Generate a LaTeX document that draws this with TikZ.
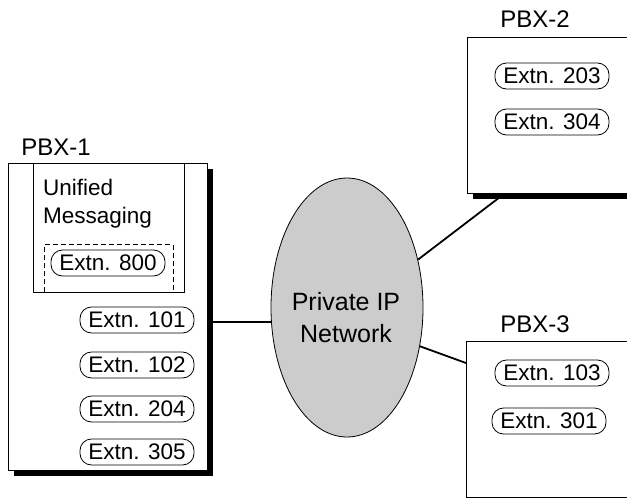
\documentclass[tikz,border=0pt]{standalone}
\usepackage{fontspec}
\setmainfont{Liberation Sans}
\usetikzlibrary{shapes.geometric,shadows}
\definecolor{netgray}{RGB}{204,204,204}
\begin{document}
\begin{tikzpicture}[x=1pt,y=-1pt,
  pbxbox/.style={draw, rectangle, line width=0.9pt, fill=white, inner sep=0pt},
  shadowed/.style={drop shadow={shadow xshift=6pt, shadow yshift=-6pt, opacity=1, fill=black}},
  ext/.style={draw, rectangle, rounded corners=11.5pt, line width=0.8pt, fill=white, minimum width=114pt, minimum height=26pt, inner sep=0pt, font=\fontsize{22.5}{26}\selectfont},
  lbl/.style={inner sep=0pt, anchor=base, font=\fontsize{24}{28}\selectfont},
  umtext/.style={inner sep=0pt, anchor=base west, font=\fontsize{22.5}{28}\selectfont},
  conn/.style={line width=1.8pt}]
\useasboundingbox (0,0) rectangle (627,498);
\clip (0,0) rectangle (627,498);

% PBX-1
\node[lbl] (l1) at (56,155) {PBX-1};
\node[pbxbox, shadowed, minimum width=199pt, minimum height=307pt] (pbx1) at (107.5,316.5) {};
\node[pbxbox, minimum width=151pt, minimum height=129pt] (um) at (108.5,227.5) {};
\node[umtext] (um1) at (43,195) {Unified};
\node[umtext] (um2) at (43,223) {Messaging};
\node[inner sep=0pt, minimum width=128pt, minimum height=47pt] (dsh) at (109,268.5) {};
\draw[line width=0.8pt, dash pattern=on 5pt off 3pt] (dsh.south west) |- (dsh.north east) -- (dsh.south east);
\node[ext] (e800) at (108,263) {Extn. 800};
\node[ext] (e101) at (137,320) {Extn. 101};
\node[ext] (e102) at (137,365) {Extn. 102};
\node[ext] (e204) at (137,409) {Extn. 204};
\node[ext] (e305) at (137,452) {Extn. 305};

% PBX-2
\node[lbl] (l2) at (535,27) {PBX-2};
\node[pbxbox, shadowed, minimum width=193pt, minimum height=156pt] (pbx2) at (563.5,115) {};
\node[ext] (e203) at (552,76) {Extn. 203};
\node[ext] (e304) at (552,122) {Extn. 304};

% PBX-3
\node[lbl] (l3) at (535,332) {PBX-3};
\node[pbxbox, minimum width=194pt, minimum height=156pt] (pbx3) at (563,419) {};
\node[ext] (e103) at (552,373) {Extn. 103};
\node[ext] (e301) at (549,421) {Extn. 301};

% Network
\node[draw, ellipse, line width=0.8pt, fill=netgray, minimum width=152pt, minimum height=259pt, inner sep=0pt] (net) at (347,307.5) {};
\node[lbl, font=\fontsize{25}{30}\selectfont] (n1) at (346,310) {Private IP};
\node[lbl, font=\fontsize{25}{30}\selectfont] (n2) at (346,342) {Network};

% connectors
\coordinate (a1) at (213,322);
\coordinate (b2) at (500,197);
\coordinate (c3) at (466,363);
\draw[conn] (a1) -- (net.west |- a1);
\draw[conn] (net.34) -- (b2);
\draw[conn] (net.-28) -- (c3);
\end{tikzpicture}
\end{document}
